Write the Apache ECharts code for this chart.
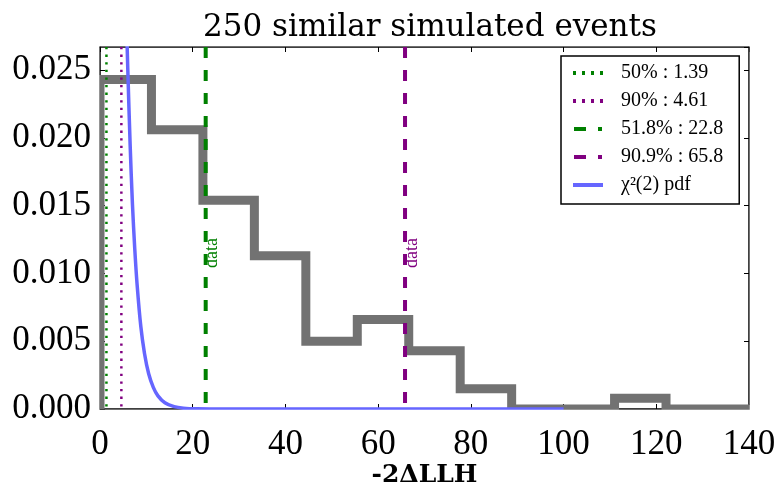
<!DOCTYPE html>
<html>
<head>
<meta charset="utf-8">
<title>250 similar simulated events</title>
<script src="https://cdn.jsdelivr.net/npm/echarts@6/dist/echarts.min.js"></script>
<style>
  html, body { margin: 0; padding: 0; background: #fff; }
  #main { width: 774px; height: 486px; }
</style>
</head>
<body>
<div id="main"></div>
<script>
// histogram of -2dLLH for the simulated events (density)
const binEdges = [0, 11.1, 22.2, 33.3, 44.4, 55.5, 66.6, 77.7, 88.8, 99.9, 111.0, 122.1, 133.2, 144.3];
const binHeights = [0.0243, 0.0206, 0.0154, 0.0113, 0.0050, 0.0066, 0.0043, 0.0015, 0, 0, 0.0008, 0, 0];

// chi2(2) pdf curve
const pdfX = [5.6, 6.0, 6.5, 7.0, 7.5, 8.0, 8.8, 9.6, 10.5, 11.5, 12.5, 14, 16, 18, 21, 25, 100];
const pdfY = [0.030, 0.0250, 0.0195, 0.0151, 0.0118, 0.0092, 0.0061, 0.0041, 0.0026, 0.0016, 0.00097, 0.00046, 0.00017, 0.00006, 0.00001, 0, 0];

// threshold lines
const lineNames = ["50% : 1.39", "90% : 4.61", "51.8% : 22.8", "90.9% : 65.8"];
const lineValues = [1.39, 4.61, 22.8, 65.8];
const pdfName = "\u03c7\u00b2(2) pdf";

const xTicks = [0, 20, 40, 60, 80, 100, 120, 140];
const yTicks = [0, 0.005, 0.01, 0.015, 0.02, 0.025];
const xMax = 140;
const yTop = 0.0267;

const serif = "Liberation Serif";
const green = "#008000";
const purple = "#800080";

const chartDom = document.getElementById("main");
const myChart = echarts.init(chartDom);

// step outline of the histogram
const histPoints = [[binEdges[0], 0]];
binHeights.forEach((h, i) => {
  histPoints.push([binEdges[i], h]);
  histPoints.push([binEdges[i + 1], h]);
});
histPoints.push([binEdges[binEdges.length - 1], 0]);

const vline = (idx, color, width, dash, withLabel) => {
  const s = {
    name: lineNames[idx],
    type: "line",
    color: color,
    symbol: "none",
    clip: true,
    lineStyle: { color: color, width: width, type: dash, cap: "butt" },
    data: [[lineValues[idx], yTop], [lineValues[idx], 0]],
    z: 3,
  };
  if (withLabel) {
    // "data" tag next to the measured value
    s.markPoint = {
      symbol: "circle",
      symbolSize: 1,
      itemStyle: { color: "rgba(0,0,0,0)" },
      data: [{ coord: [lineValues[idx], 0.0115] }],
      label: {
        show: true,
        formatter: "data",
        rotate: 90,
        position: "inside",
        offset: [0, 7],
        color: color,
        fontFamily: serif,
        fontSize: 18,
      },
    };
  }
  return s;
};

const dotted = [2.3, 5.3];
const dashed = [11, 12];

const axisLine = { show: true, onZero: false, lineStyle: { color: "#000", width: 1.5 } };
const axisTick = { show: true, inside: true, length: 5, lineStyle: { color: "#000", width: 1 } };

myChart.setOption({
  animation: false,
  title: {
    text: "250 similar simulated events",
    left: 425,
    textAlign: "center",
    top: 7,
    textStyle: {
      fontFamily: "DejaVu Serif",
      fontWeight: "normal",
      fontSize: 31,
      color: "#000",
    },
  },
  grid: { left: 100, right: 25, top: 47, bottom: 77, outerBoundsMode: "none", containLabel: false },
  legend: {
    orient: "vertical",
    left: 561,
    top: 56,
    padding: [7, 16, 9, 12],
    itemGap: 8,
    itemWidth: 30,
    itemHeight: 4,
    borderColor: "#000",
    borderWidth: 1.5,
    borderRadius: 0,
    backgroundColor: "#fff",
    itemStyle: { borderWidth: 0 },
    textStyle: {
      fontFamily: serif,
      fontSize: 20,
      lineHeight: 20,
      color: "#000",
      padding: [0, 0, 0, 13],
    },
    data: [
      { name: lineNames[0], icon: "path://M0,0h3v4h-3z M9,0h3v4h-3z M18,0h3v4h-3z M27,0h3v4h-3z" },
      { name: lineNames[1], icon: "path://M0,0h3v4h-3z M9,0h3v4h-3z M18,0h3v4h-3z M27,0h3v4h-3z" },
      { name: lineNames[2], icon: "path://M0,0h12v4h-12z M24,0h4v4h-4z" },
      { name: lineNames[3], icon: "path://M0,0h12v4h-12z M24,0h4v4h-4z" },
      { name: pdfName, icon: "path://M0,0h30v4h-30z" },
    ],
  },
  xAxis: [
    {
      type: "value",
      min: 0,
      max: xMax,
      interval: 20,
      name: "-2\u0394LLH",
      nameLocation: "middle",
      nameGap: 54,
      nameMoveOverlap: false,
      nameTextStyle: {
        fontFamily: "DejaVu Serif",
        fontWeight: "bold",
        fontSize: 25,
        color: "#000",
      },
      axisLine: axisLine,
      axisTick: axisTick,
      axisLabel: {
        margin: 18,
        fontFamily: serif,
        fontSize: 35,
        color: "#000",
        formatter: (v) => (xTicks.indexOf(v) >= 0 ? String(v) : ""),
      },
      splitLine: { show: false },
    },
    {
      type: "value",
      position: "top",
      min: 0,
      max: xMax,
      interval: 20,
      axisLine: axisLine,
      axisTick: axisTick,
      axisLabel: { show: false },
      splitLine: { show: false },
    },
  ],
  yAxis: [
    {
      type: "value",
      min: 0,
      max: yTop,
      interval: 0.005,
      axisLine: axisLine,
      axisTick: axisTick,
      axisLabel: {
        margin: 9,
        showMaxLabel: false,
        fontFamily: serif,
        fontSize: 35,
        color: "#000",
        formatter: (v) => {
          const hit = yTicks.find((t) => Math.abs(t - v) < 1e-9);
          return hit === undefined ? "" : hit.toFixed(3);
        },
      },
      splitLine: { show: false },
    },
    {
      type: "value",
      position: "right",
      min: 0,
      max: yTop,
      interval: 0.005,
      axisLine: axisLine,
      axisTick: axisTick,
      axisLabel: { show: false },
      splitLine: { show: false },
    },
  ],
  series: [
    {
      name: "hist",
      type: "line",
      color: "#727272",
      symbol: "none",
      clip: true,
      lineStyle: { color: "#727272", width: 9, join: "miter", cap: "butt" },
      data: histPoints,
      z: 2,
    },
    vline(0, green, 2.5, dotted, false),
    vline(1, purple, 2.5, dotted, false),
    vline(2, green, 4, dashed, true),
    vline(3, purple, 4, dashed, true),
    {
      name: pdfName,
      type: "line",
      color: "#6666ff",
      symbol: "none",
      clip: true,
      smooth: 0.3,
      lineStyle: { color: "#6666ff", width: 3.5 },
      data: pdfX.map((x, i) => [x, pdfY[i]]),
      z: 4,
    },
  ],
});

// echarts pads the line clip by half the line width; trim it back to the frame
const lo = myChart.convertToPixel({ gridIndex: 0 }, [0, 0]);
const hi = myChart.convertToPixel({ gridIndex: 0 }, [xMax, yTop]);
const pad = 7;
const half = 0.75;
const mask = (x, y, w, h) => ({
  type: "rect",
  z: 100,
  silent: true,
  shape: { x: x, y: y, width: w, height: h },
  style: { fill: "#fff" },
});
myChart.setOption({
  graphic: [
    mask(lo[0] - pad, lo[1] + half, hi[0] - lo[0] + 2 * pad, pad - half),
    mask(lo[0] - pad, hi[1] - pad, hi[0] - lo[0] + 2 * pad, pad - half),
    mask(lo[0] - pad, hi[1] - pad, pad - half, lo[1] - hi[1] + 2 * pad),
    mask(hi[0] + half, hi[1] - pad, pad - half, lo[1] - hi[1] + 2 * pad),
  ],
});

window.addEventListener("resize", () => {
  myChart.resize();
});
</script>
</body>
</html>
